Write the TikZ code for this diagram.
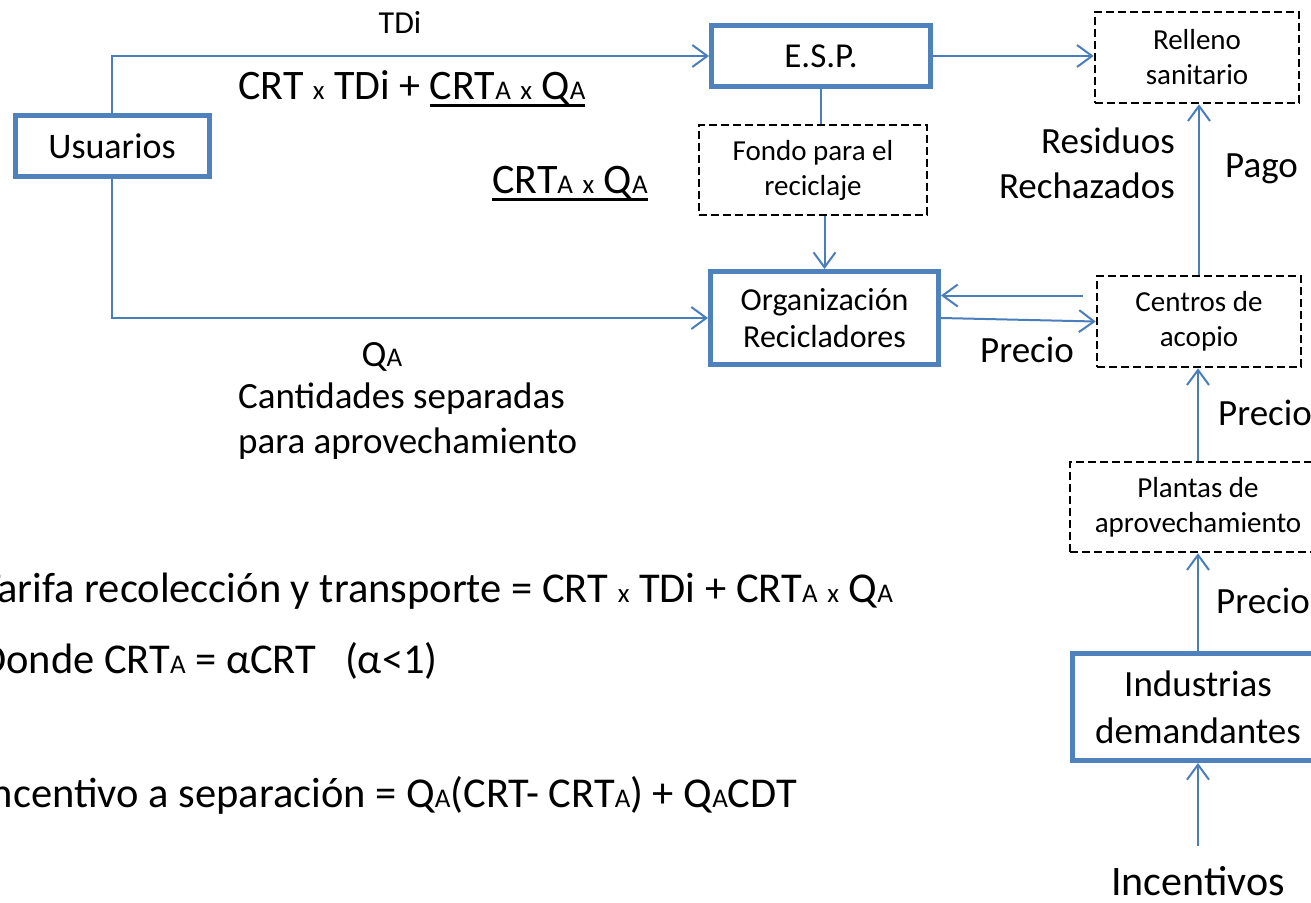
\documentclass[tikz,border=0pt]{standalone}
\usepackage{fontspec}
\setmainfont{Carlito}
\usetikzlibrary{arrows.meta,positioning,calc}
\definecolor{boxblue}{RGB}{79,129,189}
\definecolor{lineblue}{RGB}{74,126,187}
\newcommand{\sm}[1]{{\fontsize{27}{32}\selectfont #1}}
\newcommand{\undl}[1]{\setbox0=\hbox{#1}\rlap{\rule[-7.5pt]{\wd0}{2.5pt}}\box0}
\tikzset{
    agent/.style={draw=boxblue,line width=5pt,rectangle,align=center,inner sep=0pt},
    extern/.style={draw=black,line width=2.6pt,dash pattern=on 8pt off 4pt,rectangle,align=center,inner sep=0pt,font=\fontsize{29}{35}\selectfont},
    flow/.style={-{Straight Barb[length=15pt,width=22pt,line width=2pt]},draw=lineblue,line width=2pt},
    link/.style={-,draw=lineblue,line width=2pt},
    formula/.style={font=\fontsize{42}{50}\selectfont},
}

\begin{document}
\begin{tikzpicture}[x=1pt,y=-1pt, every node/.style={font=\fontsize{37}{45}\selectfont,inner sep=0pt}]
% Page
                \clip (0,0) rectangle (1311,902);
% --- Actors (thick boxes) ---
                \node[agent,minimum width=194pt,minimum height=61pt,font=\fontsize{36}{44}\selectfont] (usu) at (112,146) {Usuarios};
                \node[agent,minimum width=219pt,minimum height=61pt,font=\fontsize{35}{42}\selectfont] (esp) at (821,56) {E.S.P.};
                \node[agent,minimum width=228pt,minimum height=93pt,font=\fontsize{32}{37}\selectfont] (org) at (824.5,318) {Organización\\Recicladores};
                \node[agent,minimum width=251pt,minimum height=107pt,font=\fontsize{37}{47}\selectfont] (ind) at (1198,707) {Industrias\\demandantes};
% --- Other parties (dashed boxes) ---
                \node[extern,minimum width=204pt,minimum height=91pt] (rell) at (1197,57.5) {Relleno\\sanitario};
                \node[extern,minimum width=228pt,minimum height=90pt] (fondo) at (813,170) {Fondo para el\\reciclaje};
                \node[extern,minimum width=204pt,minimum height=91pt] (cent) at (1199,321.5) {Centros de\\acopio};
                \node[extern,minimum width=256pt,minimum height=90pt] (plant) at (1198,507) {Plantas de\\aprovechamiento};
                \node[anchor=base,font=\fontsize{42}{50}\selectfont] (inc) at (1198,895) {Incentivos};
% --- Labels on the flows ---
                \node[anchor=base,font=\fontsize{32}{38}\selectfont] (tdi) at (400,33) {TDi};
                \node[formula,anchor=base west] (tarifa) at (238,99) {CRT \sm{x} TDi + \undl{CRT\sm{A} \sm{x} Q\sm{A}}};
                \node[formula,anchor=base west] (fondolbl) at (492,193) {\undl{CRT\sm{A} \sm{x} Q\sm{A}}};
                \node[anchor=base] (qa) at (382,366) {Q\sm{A}};
                \node[anchor=west,align=left] (cant) at (238,421.5) {Cantidades separadas\\para aprovechamiento};
                \node[anchor=east,align=right] (rech) at (1175,163.5) {Residuos\\Rechazados};
                \node[anchor=base west] (pago) at (1225,177) {Pago};
                \node[anchor=base west] (precio1) at (980,362) {Precio};
                \node[anchor=base west] (precio2) at (1218,425) {Precio};
                \node[anchor=base west] (precio3) at (1216,613) {Precio};
% --- Formulas ---
                \node[formula,anchor=base west,font=\fontsize{42.5}{50}\selectfont] (f1) at (-20,602) {Tarifa recolección y transporte = CRT \sm{x} TDi + CRT\sm{A} \sm{x} Q\sm{A}};
                \node[formula,anchor=base west,font=\fontsize{42.5}{50}\selectfont] (f2) at (-20,673) {Donde CRT\sm{A} = αCRT \ \ (α<1)};
                \node[formula,anchor=base west,font=\fontsize{42.5}{50}\selectfont] (f3) at (-20,807) {Incentivo a separación = Q\sm{A}(CRT- CRT\sm{A}) + Q\sm{A}CDT};
% --- Flows ---
                \draw[flow] (usu.north) |- (esp.west);
                \draw[flow] (usu.south) |- (org.west);
                \draw[flow] (esp.east) -- (esp.east -| rell.west);
                \draw[link] (esp.south) -- (esp.south |- fondo.north);
                \draw[flow] (org.north |- fondo.south) -- (org.north);
                \coordinate (back) at ($(cent.west)+(-13,-26)$);
                \draw[flow] (back) -- (back -| org.east);
                \draw[flow] (org.east) -- (cent.west);
                \draw[flow] (cent.north) -- (cent.north |- rell.south);
                \draw[flow] (plant.north) -- (plant.north |- cent.south);
                \draw[flow] (ind.north) -- (plant.south);
                \draw[flow] ([yshift=20pt]inc.north) -- (ind.south);
\end{tikzpicture}
\end{document}
